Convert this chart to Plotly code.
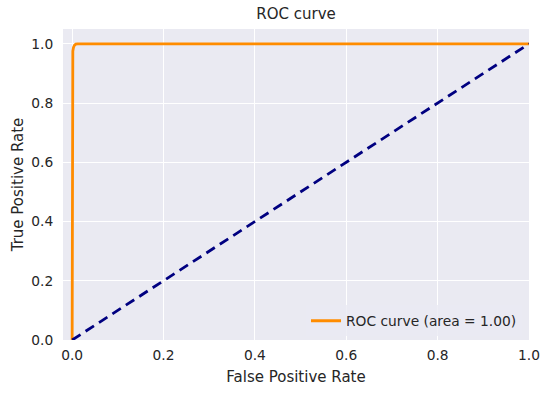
import plotly.graph_objects as go

fpr = [0.0, 0.0, 0.0, 0.0005, 0.0015, 0.003, 0.005, 0.008, 0.012, 1.0]
tpr = [0.0, 0.5, 0.9, 0.95, 0.975, 0.988, 0.995, 0.999, 1.0, 1.0]
diag_x = [0.0, 1.0]
diag_y = [0.0, 1.0]
tick_vals = [0.0, 0.2, 0.4, 0.6, 0.8, 1.0]
tick_text = ["0.0", "0.2", "0.4", "0.6", "0.8", "1.0"]
roc_label = "ROC curve (area = 1.00)"

font = "DejaVu Sans"
txt = "#262626"

fig = go.Figure()
fig.add_trace(go.Scatter(x=fpr, y=tpr, mode="lines", name=roc_label,
                         line=dict(color="darkorange", width=2.8)))
fig.add_trace(go.Scatter(x=diag_x, y=diag_y, mode="lines", showlegend=False,
                         line=dict(color="navy", width=2.8, dash="10px,6px")))

fig.update_layout(
    width=549, height=396,
    margin=dict(l=63, r=20, t=29, b=56, autoexpand=False),
    paper_bgcolor="white", plot_bgcolor="#EAEAF2",
    font=dict(family=font, color=txt, size=13.8),
    title=dict(text="ROC curve", x=0.5, xanchor="center", y=1 - 14/396, yanchor="middle",
               xref="paper", font=dict(size=15, family=font, color=txt)),
    showlegend=True,
    legend=dict(x=0.985, y=0.012, xanchor="right", yanchor="bottom",
                bgcolor="rgba(234,234,242,0.8)", font=dict(size=13.8, family=font, color=txt)),
    xaxis=dict(range=[-0.02, 1.0], tickvals=tick_vals, ticktext=tick_text,
               showgrid=True, gridcolor="white", gridwidth=1.2, zeroline=False,
               showline=False, ticks="outside", ticklen=2, tickcolor="rgba(0,0,0,0)",
               tickfont=dict(size=13.8), automargin=False,
               title=dict(text="False Positive Rate", font=dict(size=15), standoff=9)),
    yaxis=dict(range=[0.0, 1.05], tickvals=tick_vals, ticktext=tick_text,
               showgrid=True, gridcolor="white", gridwidth=1.2, zeroline=False,
               showline=False, ticks="outside", ticklen=6, tickcolor="rgba(0,0,0,0)",
               tickfont=dict(size=13.8), automargin=False,
               title=dict(text="True Positive Rate", font=dict(size=15), standoff=4)),
)

fig.write_html("out.html", config={"displayModeBar": False},
               post_script="document.body.style.margin='0';")
